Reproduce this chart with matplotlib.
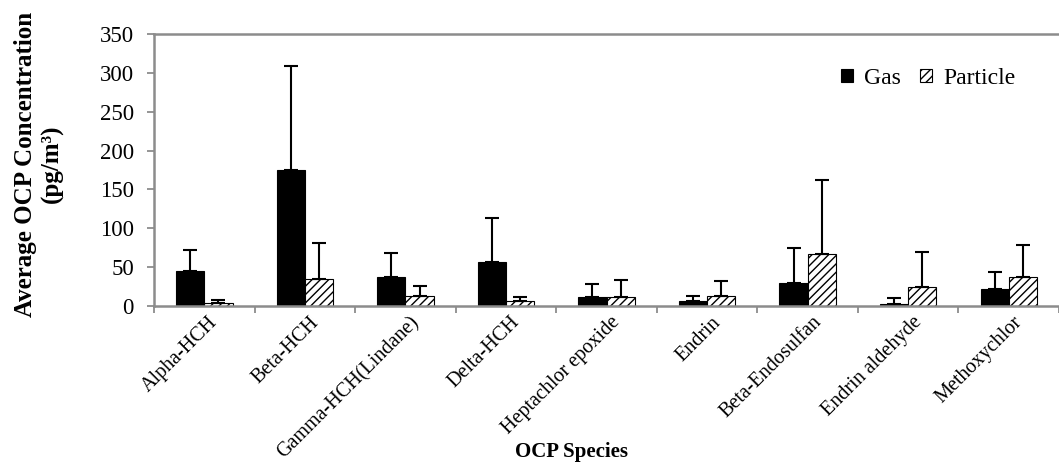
import numpy as np
import matplotlib.pyplot as plt
from matplotlib.transforms import ScaledTranslation

plt.rcParams['font.family'] = ['Liberation Serif', 'DejaVu Serif']
plt.rcParams['hatch.linewidth'] = 1.0

species = ["Alpha-HCH", "Beta-HCH", "Gamma-HCH(Lindane)", "Delta-HCH",
           "Heptachlor epoxide", "Endrin", "Beta-Endosulfan",
           "Endrin aldehyde", "Methoxychlor"]
gas_mean = [45, 175, 37, 57, 12, 6.5, 30, 2.2, 22]
gas_sd = [27, 134, 31, 56, 16, 6.5, 44, 7.7, 22]
particle_mean = [4, 35, 13, 6.5, 11, 12.5, 67, 24, 37.5]
particle_sd = [4, 46, 12, 4.5, 22, 19.5, 95, 45.5, 41.5]

grey = '#8c8c8c'
barWidth = 0.28
x = np.arange(len(species))

fig = plt.figure(figsize=(10.59, 4.62), dpi=100)
ax = fig.add_axes([0.1455, 0.338, 0.8545, 0.588])

err = dict(elinewidth=1.5, capsize=5, capthick=1.5, ecolor='black')
ax.bar(x - barWidth / 2, gas_mean, width=barWidth, color='black',
       edgecolor='black', linewidth=0.8, label='Gas',
       yerr=[np.zeros(len(gas_sd)), gas_sd], error_kw=err)
ax.bar(x + barWidth / 2, particle_mean, width=barWidth, color='white',
       edgecolor='black', hatch='////', linewidth=0.8, label='Particle',
       yerr=[np.zeros(len(particle_sd)), particle_sd], error_kw=err)

ax.set_ylim(0, 350)
ax.set_xlim(-0.5, 8.39)
ax.set_yticks(np.arange(0, 351, 50))
ax.tick_params(axis='y', labelsize=16.5, color=grey, length=5, width=1.3, pad=9.5)

# category boundaries carry the ticks, names sit at the centres
ax.set_xticks(np.arange(len(species) + 1) - 0.5)
ax.set_xticklabels([])
ax.set_xticks(x, minor=True)
ax.set_xticklabels(species, minor=True, rotation=45, ha='right',
                   rotation_mode='anchor', fontsize=14.5)
ax.tick_params(axis='x', which='major', color=grey, length=5, width=1.3)
ax.tick_params(axis='x', which='minor', length=0, pad=8)
shift = ScaledTranslation(0.04, 0.04, fig.dpi_scale_trans)
for lab in ax.get_xticklabels(minor=True):
    lab.set_transform(lab.get_transform() + shift)

for side in ['left', 'bottom', 'top']:
    ax.spines[side].set_color(grey)
    ax.spines[side].set_linewidth(1.8)
ax.spines['right'].set_visible(False)

fig.text(0.037, 0.645, "Average OCP Concentration\n(pg/m³)", fontsize=18,
         fontweight='bold', rotation=90, ha='center', va='center',
         linespacing=1.2)
fig.text(0.54, 0.01, "OCP Species", fontsize=15, fontweight='bold', ha='center')

ax.legend(loc='upper right', bbox_to_anchor=(0.975, 0.955), ncol=2,
          frameon=False, fontsize=17, handlelength=0.5, handleheight=0.5,
          handletextpad=0.45, columnspacing=0.85)

plt.savefig("out.png", dpi=100)
